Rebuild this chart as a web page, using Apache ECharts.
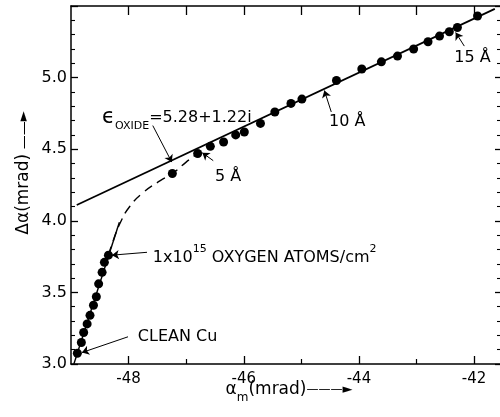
<!DOCTYPE html>
<html><head><meta charset="utf-8">
<script src="https://cdn.jsdelivr.net/npm/echarts@6/dist/echarts.min.js"></script>
<style>html,body{margin:0;padding:0;background:#fff}#c{width:500px;height:417px}</style>
</head><body><div id="c"></div>
<script>
// ---- data ----
const xMin = -49, xMax = -41.55;
const yMin = 3.0, yMax = 5.5;
const xTickValues = [-48, -46, -44, -42];
const xMinorTickValues = [-47, -45, -43];
const xTopTickValues = [-48, -47, -46, -45, -44, -43, -42];
const yTickLabels = ['3.0', '3.5', '4.0', '4.5', '5.0'];

const dotX = [-48.89, -48.82, -48.78, -48.72, -48.67, -48.61, -48.56, -48.52, -48.46, -48.42, -48.35,
  -47.24, -46.80, -46.58, -46.35, -46.14, -45.99, -45.71, -45.46, -45.18, -44.99, -44.39,
  -43.95, -43.61, -43.33, -43.05, -42.80, -42.60, -42.43, -42.29, -41.94];
const dotY = [3.075, 3.15, 3.22, 3.28, 3.34, 3.41, 3.47, 3.56, 3.64, 3.71, 3.76,
  4.33, 4.47, 4.52, 4.55, 4.60, 4.62, 4.68, 4.76, 4.82, 4.85, 4.98,
  5.06, 5.11, 5.15, 5.20, 5.25, 5.29, 5.32, 5.35, 5.43];

const oxideLineX = [-48.9, -41.64];
const oxideLineY = [4.11, 5.48];
const cleanLineX = [-48.95, -48.16];
const cleanLineY = [3.0, 3.99];
const dashCurveX = [-48.35, -48.26, -48.14, -47.98, -47.74, -47.45, -47.24, -47.0, -46.80];
const dashCurveY = [3.76, 3.87, 3.99, 4.10, 4.20, 4.28, 4.33, 4.41, 4.47];

const annotationTexts = [
  '{e|ϵ}{sub|OXIDE}{t|=5.28+1.22i}',
  '{t|5 Å}',
  '{t|10 Å}',
  '{t|15 Å}',
  '{t|1x10}{sup|15}{t| OXYGEN ATOMS/cm}{sup|2}',
  '{t|CLEAN Cu}'
];
const annotationX = [-48.46, -46.50, -44.52, -42.345, -47.58, -47.84];
const annotationY = [4.72, 4.31, 4.693, 5.139, 3.742, 3.192];

const arrowFromX = [-47.58, -46.53, -44.48, -42.17, -47.68, -48.01];
const arrowFromY = [4.665, 4.42, 4.76, 5.22, 3.78, 3.19];
const arrowToX = [-47.25, -46.72, -44.60, -42.32, -48.29, -48.81];
const arrowToY = [4.41, 4.475, 4.91, 5.315, 3.76, 3.08];

// ---- chart ----
const FONT = 'DejaVu Sans';
const zip = (a, b) => a.map((v, i) => [v, b[i]]);
const chart = echarts.init(document.getElementById('c'), null, {renderer: 'canvas'});

const axisLineStyle = {color: '#000', width: 1.5};
const option = {
  animation: false,
  backgroundColor: '#fff',
  grid: {left: 71, right: 0, top: 6, bottom: 53},
  xAxis: [
    {type: 'value', position: 'bottom', min: xMin, max: xMax,
      axisLine: {show: true, onZero: false, lineStyle: axisLineStyle},
      axisTick: {show: true, inside: true, length: 8, customValues: xTickValues, lineStyle: {color: '#000', width: 1.3}},
      axisLabel: {show: true, customValues: xTickValues, color: '#000', fontFamily: FONT, fontSize: 15, margin: 8},
      splitLine: {show: false}},
    {type: 'value', position: 'bottom', min: xMin, max: xMax,
      axisLine: {show: false, onZero: false},
      axisTick: {show: true, inside: true, length: 5, customValues: xMinorTickValues, lineStyle: {color: '#000', width: 1.2}},
      axisLabel: {show: false}, splitLine: {show: false}},
    {type: 'value', position: 'top', min: xMin, max: xMax,
      axisLine: {show: true, onZero: false, lineStyle: axisLineStyle},
      axisTick: {show: true, inside: true, length: 9, customValues: xTopTickValues, lineStyle: {color: '#000', width: 1.3}},
      axisLabel: {show: false}, splitLine: {show: false}}
  ],
  yAxis: [
    {type: 'value', position: 'left', min: yMin, max: yMax, interval: 0.5,
      axisLine: {show: true, onZero: false, lineStyle: axisLineStyle},
      axisTick: {show: true, inside: true, length: 7, lineStyle: {color: '#000', width: 1.3}},
      minorTick: {show: true, splitNumber: 5, length: 4, lineStyle: {color: '#000', width: 1.1}},
      axisLabel: {show: true, color: '#000', fontFamily: FONT, fontSize: 16, margin: 4,
        formatter: v => yTickLabels.includes(v.toFixed(1)) ? v.toFixed(1) : ''},
      splitLine: {show: false}, minorSplitLine: {show: false}},
    {type: 'value', position: 'right', min: yMin, max: yMax, interval: 0.5,
      axisLine: {show: false, onZero: false},
      axisTick: {show: true, inside: true, length: 5, lineStyle: {color: '#000', width: 1.3}},
      minorTick: {show: true, splitNumber: 5, length: 3, lineStyle: {color: '#000', width: 1.1}},
      axisLabel: {show: false}, splitLine: {show: false}, minorSplitLine: {show: false}}
  ],
  series: [
    {type: 'line', data: zip(oxideLineX, oxideLineY), showSymbol: false, symbol: 'none',
      lineStyle: {color: '#000', width: 1.7}, z: 3},
    {type: 'line', data: zip(cleanLineX, cleanLineY), showSymbol: false, symbol: 'none',
      lineStyle: {color: '#000', width: 1.4}, z: 3},
    {type: 'line', data: zip(dashCurveX, dashCurveY), showSymbol: false, symbol: 'none', smooth: 0.5,
      lineStyle: {color: '#000', width: 1.4, type: [9, 6]}, z: 3},
    {type: 'scatter', data: zip(dotX, dotY), symbol: 'circle', symbolSize: 9,
      itemStyle: {color: '#000', opacity: 1}, z: 4},
    {type: 'scatter', symbolSize: 0, z: 5, silent: true, itemStyle: {opacity: 1},
      data: annotationTexts.map((t, i) => ({value: [annotationX[i], annotationY[i]], label: {formatter: t}})),
      label: {show: true, position: 'right', distance: 0, color: '#000',
        rich: {
          t: {fontFamily: FONT, fontSize: 16, color: '#000', lineHeight: 28},
          e: {fontFamily: FONT, fontSize: 21, color: '#000', lineHeight: 28},
          sub: {fontFamily: FONT, fontSize: 11, color: '#000', lineHeight: 11, verticalAlign: 'bottom'},
          sup: {fontFamily: FONT, fontSize: 11, color: '#000', lineHeight: 11, verticalAlign: 'top'}
        }}},
    {type: 'line', data: [], silent: true,
      markLine: {silent: true, animation: false, symbol: ['none', 'arrow'], symbolSize: 7,
        label: {show: false},
        lineStyle: {color: '#000', width: 1, type: 'solid'},
        data: arrowFromX.map((x, i) => [{coord: [x, arrowFromY[i]]}, {coord: [arrowToX[i], arrowToY[i]]}])}}
  ],
  graphic: [
    {type: 'text', x: 24, y: 173, rotation: Math.PI / 2,
      style: {text: '{t|Δα(mrad)}{l| ——}{h|►}', align: 'center', verticalAlign: 'middle',
        rich: {t: {fontFamily: FONT, fontSize: 17, fill: '#000', lineHeight: 22},
               l: {fontFamily: FONT, fontSize: 14, fill: '#000', lineHeight: 22},
               h: {fontFamily: FONT, fontSize: 13, fill: '#000', lineHeight: 22}}}},
    {type: 'text', x: 289, y: 390,
      style: {text: '{t|α}{sub|m}{t|(mrad)}{l|———}{h|►}', align: 'center', verticalAlign: 'middle',
        rich: {t: {fontFamily: FONT, fontSize: 17, fill: '#000', lineHeight: 28},
               sub: {fontFamily: FONT, fontSize: 12, fill: '#000', lineHeight: 12, verticalAlign: 'bottom'},
               l: {fontFamily: FONT, fontSize: 12, fill: '#000', lineHeight: 28},
               h: {fontFamily: FONT, fontSize: 13, fill: '#000', lineHeight: 28}}}}
  ]
};
chart.setOption(option);
</script></body></html>
